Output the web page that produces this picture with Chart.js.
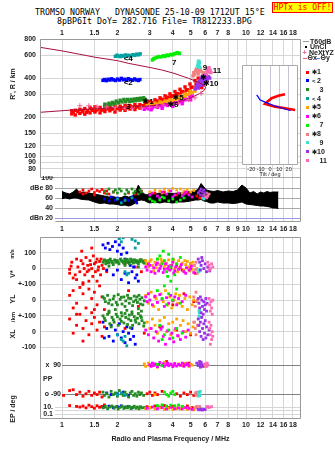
<!DOCTYPE html>
<html>
<head>
<meta charset="utf-8">
<script src="https://cdn.jsdelivr.net/npm/chart.js@4.4.0/dist/chart.umd.min.js"></script>
<style>
  html, body { margin: 0; padding: 0; background: #fff; }
  #wrap { position: relative; width: 335px; height: 451px; overflow: hidden; background: #fff; }
  #wrap canvas { position: absolute; }
  .mono { position: absolute; white-space: pre; font-family: "DejaVu Sans Mono", monospace; font-size: 8.3px; line-height: 10px; color: #000; }
  #hptx { position: absolute; left: 272px; top: 2px; width: 61px; height: 11px; box-sizing: border-box; border: 1px solid #f00;
          background: #ff0; color: #f00; font: 8px "DejaVu Sans Mono", monospace; line-height: 9px; text-align: center; white-space: pre; }
  .rot { position: absolute; white-space: nowrap; transform: translate(-50%, -50%) rotate(-90deg);
         font: bold 7px "Liberation Sans", Arial, sans-serif; color: #222; }
  .lg { position: absolute; white-space: pre; font: bold 7px "Liberation Sans", Arial, sans-serif; color: #222; line-height: 8px; }
  .lg .pre { display: inline-block; font-size: 6px; overflow: visible; }
</style>
</head>
<body>
<div id="wrap">
  <div class="mono" style="left:35px;top:7px">TROMSO NORWAY   DYNASONDE 25-10-09 1712UT 15°E</div>
  <div class="mono" style="left:57px;top:16px">8pBP6It DoY= 282.716 File= TR812233.BPG</div>
  <div id="hptx">HPTx is OFF!</div>
  <canvas id="cTop" width="335" height="153" style="left:0;top:26px"></canvas>
  <canvas id="cTilt" width="60" height="113" style="left:240px;top:65px"></canvas>
  <canvas id="cDbe" width="335" height="58" style="left:0;top:176px"></canvas>
  <canvas id="cLow" width="335" height="216" style="left:0;top:235px"></canvas>
  <div class="rot" style="left:12px;top:84px">R', R / km</div>
  <div class="rot" style="left:12px;top:274px">V*</div>
  <div class="rot" style="left:12px;top:254px;font-size:5.5px">m/s</div>
  <div class="rot" style="left:12px;top:299px">YL</div>
  <div class="rot" style="left:13px;top:317px;font-size:6px">/km</div>
  <div class="rot" style="left:12px;top:334px">XL</div>
  <div class="rot" style="left:12px;top:409px">EP / deg</div>
</div>
<script>
// ---- cluster names / colours ----
const clusterNames = ['✱1', '<2', '3', '<4', '✱5', '✱6', '7', '✱8', '9', '✱10', '11'];
const clusterColors = ['#ff0000', '#0000ff', '#228b22', '#00a0a0', '#ffa500', '#ff00ff',
                       '#00f000', '#f08080', '#40e0d0', '#9932e8', '#ff69b4'];

// ---- tick labels ----
const freqTicks = [1, 1.5, 2, 3, 4, 5, 6, 7, 8, 9, 10, 12, 14, 16, 18];
const topFreqLabels = ['1', '1.5', '2', '3', '4', '5', '6', '7', '8', '', '10', '12', '14', '16', '18'];
const midFreqLabels = ['1', '1.5', '2', '3', '4', '5', '6', '7', '8', '9', '10', '12', '14', '16', '18'];
const rangeTicks = [800, 600, 400, 300, 200, 150, 120, 100, 90, 80];
const dbeTicks = [100, 80, 60, 40, 20];
const dbeTickLabels = ['100', 'dBe 80', '60', '40', 'dBn 20'];
const tiltTicks = [-20, -10, 0, 10, 20];
const lowTicks = [1, 0, -1, -2, -3, -4, -5];
const lowTickLabels = ['100', '0', '+-100', '0', '+-100', '0', '-100'];
const ppMarks = [[90, 'x  90'], [-90, 'o -90']];
const epMarks = [[10, '10.'], [1, ''], [0.1, '0.1']];

// ---- virtual range R' (MHz, km) per cluster ----
const virtualRange = [
  [1,1.13,212],[1,1.13,224],[1,1.18,208],[1,1.18,226],[1,1.25,214],[1,1.25,230],[1,1.29,220],[1,1.33,211],[1,1.33,233],
  [1,1.38,224],[1,1.42,216],[1,1.42,236],[1,1.47,226],[1,1.51,219],[1,1.51,240],[1,1.56,230],[1,1.61,216],[1,1.61,238],
  [1,1.66,227],[1,1.71,221],[1,1.71,244],[1,1.76,232],[1,1.82,224],[1,1.82,240],[1,1.88,232],[1,1.94,219],[1,1.94,245],
  [1,2.0,234],[1,2.07,227],[1,2.07,243],[1,2.13,236],[1,2.2,226],[1,2.2,247],[1,2.27,238],[1,2.34,231],[1,2.34,246],
  [1,2.41,240],[1,2.49,229],[1,2.49,250],[1,2.57,241],[1,2.65,235],[1,2.65,250],[1,2.74,245],[1,2.83,245],[1,2.83,258],
  [1,2.92,252],[1,3.0,250],[1,3.0,264],[1,3.1,258],[1,3.2,256],[1,3.2,272],[1,3.3,266],[1,3.41,265],[1,3.41,282],
  [1,3.52,275],[1,3.63,272],[1,3.63,292],[1,3.75,285],[1,3.86,280],[1,3.86,302],[1,3.98,292],[1,4.11,292],[1,4.11,315],
  [1,4.24,304],[1,4.38,300],[1,4.38,328],[1,4.52,315],[1,4.66,308],[1,4.66,342],[1,4.8,325],[1,4.96,318],[1,4.96,360],
  [1,5.1,340],[1,5.28,335],[1,5.28,382],[1,5.4,360],[1,5.5,352],[1,5.5,400],[1,5.62,345],[1,5.75,338],
  [1,1.15,218],[1,1.22,221],[1,1.3,226],[1,1.36,218],[1,1.45,231],[1,1.53,225],[1,1.63,228],[1,1.73,232],[1,1.85,231],
  [1,1.97,232],[1,2.1,235],[1,2.24,236],[1,2.38,238],[1,2.53,240],[1,2.7,242],[1,2.88,250],[1,3.05,257],[1,3.25,264],
  [1,3.47,272],[1,3.7,281],[1,3.92,289],[1,4.17,302],[1,4.45,314],[1,4.73,325],[1,5.03,340],[1,5.35,358],
  [2,1.67,384],[2,1.7,390],[2,1.74,382],[2,1.78,392],[2,1.82,386],[2,1.86,395],[2,1.9,388],[2,1.95,383],[2,2.0,393],
  [2,2.05,386],[2,2.1,398],[2,2.15,388],[2,2.2,392],[2,2.25,384],[2,2.3,396],[2,2.36,389],[2,2.42,385],[2,2.48,394],
  [2,2.54,387],[2,2.6,383],[2,2.65,390],
  [3,1.71,243],[3,1.71,252],[3,1.76,248],[3,1.8,256],[3,1.85,250],[3,1.88,260],[3,1.94,254],[3,1.97,266],[3,2.03,258],
  [3,2.07,270],[3,2.12,262],[3,2.17,274],[3,2.22,264],[3,2.27,274],[3,2.32,264],[3,2.37,274],[3,2.42,266],[3,2.47,276],
  [3,2.52,268],[3,2.57,278],[3,2.62,270],[3,2.67,280],[3,2.72,272],[3,2.78,282],[3,2.83,274],
  [4,1.95,588],[4,1.99,600],[4,2.03,592],[4,2.07,585],[4,2.11,597],[4,2.16,590],[4,2.21,603],[4,2.26,594],[4,2.31,600],
  [4,2.37,592],[4,2.43,606],[4,2.49,598],[4,2.55,612],[4,2.61,604],[4,2.66,615],
  [5,2.83,238],[5,2.9,246],[5,3.0,242],[5,3.0,252],[5,3.1,248],[5,3.2,245],[5,3.2,256],[5,3.3,252],[5,3.41,250],
  [5,3.41,262],[5,3.52,258],[5,3.63,255],[5,3.63,266],[5,3.75,262],[5,3.86,258],[5,3.86,272],[5,3.98,268],[5,4.11,266],
  [5,4.11,280],[5,4.24,276],[5,4.38,276],[5,4.38,290],[5,4.52,288],[5,4.66,286],[5,4.66,302],[5,4.8,298],[5,4.96,296],
  [5,4.96,315],[5,5.1,310],[5,5.28,318],[5,5.28,330],
  [6,2.8,230],[6,2.88,236],[6,2.95,232],[6,3.0,240],[6,3.1,236],[6,3.2,242],[6,3.3,238],[6,3.41,246],[6,3.52,242],
  [6,3.63,250],[6,3.75,246],[6,3.86,254],[6,3.98,250],[6,4.11,258],[6,4.24,256],[6,4.38,264],[6,4.52,264],[6,4.66,272],
  [6,4.8,274],[6,4.96,284],[6,5.1,290],[6,3.05,228],[6,3.5,234],[6,4.0,242],[6,4.5,254],[6,5.0,272],
  [7,3.1,552],[7,3.15,562],[7,3.2,570],[7,3.28,578],[7,3.36,586],[7,3.45,582],[7,3.55,594],[7,3.63,588],[7,3.72,602],
  [7,3.8,596],[7,3.9,608],[7,4.0,604],[7,4.08,616],[7,4.17,622],[7,4.25,628],[7,4.35,620],
  [8,5.15,415],[8,5.2,440],[8,5.25,425],[8,5.32,455],[8,5.38,470],[8,5.45,445],[8,5.5,430],[8,5.56,460],[8,5.62,475],
  [8,5.7,450],[8,5.8,420],[8,5.9,440],[8,6.0,410],
  [9,5.45,495],[9,5.5,520],[9,5.52,540],[9,5.55,505],[9,5.58,530],[9,5.6,485],
  [10,5.3,330],[10,5.38,345],[10,5.45,360],[10,5.5,335],[10,5.55,375],[10,5.6,350],[10,5.65,390],[10,5.7,365],
  [10,5.75,400],[10,5.8,380],[10,5.85,355],[10,5.9,410],[10,5.95,390],[10,6.0,370],[10,6.05,420],[10,6.1,400],
  [10,6.15,385],[10,6.25,410],[10,6.35,400],
  [11,6.1,430],[11,6.15,455],[11,6.2,470],[11,6.25,445],[11,6.3,480],[11,6.38,460],[11,6.45,440]
];
// cluster tags written in the range panel (MHz, km)
const clusterTags = [['<4',2.29,561],['<2',2.29,365],['3',2.29,242],['✱1',2.94,264],['✱5',4.27,280],['✱6',4.01,249],
  ['7',4.07,526],['9',5.98,476],['✱',5.87,403],['11',6.95,456],['✱10',6.43,361]];
// model profile trace (MHz, km)
const modelTrace = [[0.76,690],[1.0,648],[1.25,610],[1.51,579],[2.0,545],[2.29,520],[3.0,483],[3.48,462],[4.0,438],
  [4.86,399],[5.5,372],[5.9,352],[6.05,340],[5.9,320],[5.5,300],[5.0,282],[4.5,268],[4.0,258],[3.5,250],[3.0,244],
  [2.5,240],[2.0,237],[1.5,232],[1.13,227],[0.76,218]];
// NeXtYZ real heights (MHz, km)
const nextYZ = [[1.25,245],[1.4,245],[1.55,240],[1.75,240],[1.95,238],[2.2,235],[2.4,234],[2.7,236],[3.0,238],
  [3.27,241],[3.55,249],[3.9,252],[4.28,256],[4.86,272],[5.28,282],[5.7,305]];
// tilt profiles (deg, km)
const thetaX = [[26.9,227],[16,234],[5.4,241],[-5.4,253],[-3.5,261],[1.8,280],[8.9,292],[16.1,300]];
const thetaY = [[-14.3,297],[-12.5,285],[-10.8,272],[-5.4,261],[5.4,244],[19.7,227],[22,225]];

// ---- echo amplitude (MHz, dB) ----
const dbeFreq = [1.0,1.05,1.1,1.15,1.2,1.25,1.3,1.4,1.5,1.6,1.7,1.8,1.9,2.0,2.1,2.2,2.3,2.4,2.5,2.6,2.7,2.8,2.9,3.0,
  3.2,3.4,3.6,3.8,4.0,4.3,4.6,5.0,5.3,5.5,5.7,5.9,6.1,6.4,6.7,7.0,7.5,8.0,8.5,9.0,9.5,10.0,10.5,11.0,11.5,12.0,12.5,
  13.0,13.5,14.0,14.5,15.0];
const dbeHigh = [73,70,68,72,78,70,72,70,68,66,64,62,63,60,61,64,62,63,70,86,74,68,66,70,68,70,68,70,69,70,71,73,74,
  78,89,82,76,74,73,75,72,74,73,76,86,80,70,73,68,72,70,73,71,72,72,72];
const dbeLow = [59,60,58,60,60,58,57,56,52,49,50,48,48,47,45,46,44,46,50,55,56,55,52,50,52,50,52,51,50,52,52,54,56,
  56,57,54,53,50,50,52,50,50,49,50,52,48,47,46,45,44,44,43,42,40,40,39];
const dbeEcho = [
  [1,1.25,72],[1,1.3,76],[1,1.35,70],[1,1.4,74],[1,1.45,78],[1,1.5,71],[1,1.55,75],[1,1.6,73],[1,1.65,77],[1,1.7,70],
  [1,1.75,74],[1,1.8,68],[1,1.3,68],[1,1.5,66],[1,1.9,72],[1,2.3,70],[1,2.5,68],[1,2.7,74],[1,3.2,70],[1,3.6,72],
  [1,4.2,66],[1,4.8,70],[1,5.4,64],[1,5.6,60],
  [2,1.7,58],[2,1.8,54],[2,1.85,62],[2,1.95,56],[2,2.0,60],[2,2.1,52],[2,2.2,58],[2,2.3,55],[2,2.4,62],[2,2.5,56],[2,2.55,50],
  [3,1.7,74],[3,1.75,68],[3,1.8,78],[3,1.9,72],[3,1.95,76],[3,2.0,70],[3,2.05,78],[3,2.1,74],[3,2.2,68],[3,2.25,76],
  [3,2.3,72],[3,2.4,78],[3,2.45,70],[3,2.5,74],[3,2.6,68],[3,2.65,76],[3,2.7,72],
  [4,2.0,58],[4,2.2,55],[4,2.4,60],[4,2.1,50],
  [5,3.0,72],[5,3.2,76],[5,3.4,74],[5,3.6,78],[5,3.8,75],[5,4.0,79],[5,4.2,76],[5,4.4,78],[5,4.6,74],[5,4.8,77],
  [5,5.0,72],[5,5.2,75],[5,3.5,70],[5,4.5,70],
  [6,3.0,66],[6,3.1,70],[6,3.3,64],[6,3.5,72],[6,3.7,68],[6,3.9,74],[6,4.1,66],[6,4.3,70],[6,4.5,64],[6,4.7,72],
  [6,4.9,66],[6,5.1,62],[6,3.4,60],[6,4.0,62],[6,4.6,68],
  [7,3.0,58],[7,3.2,52],[7,3.4,56],[7,3.6,60],[7,3.8,54],[7,4.0,58],[7,4.2,52],[7,4.4,56],[7,4.6,60],[7,3.5,62],[7,3.1,54],
  [8,5.9,66],[8,6.0,62],[8,6.1,70],[8,6.2,64],[8,6.3,68],
  [9,5.8,60],[9,5.9,58],
  [10,5.5,70],[10,5.6,74],[10,5.7,78],[10,5.8,72],[10,5.9,76],[10,6.0,70],[10,5.65,66],[10,5.85,64],
  [11,6.1,60],[11,6.2,64]
];

// ---- lower panels: V* (m/s), YL, XL (km), PP (deg), EP (deg) ----
const velocity = [
  [1,1.1,-5],[1,1.1,-30],[1,1.13,40],[1,1.15,-60],[1,1.2,60],[1,1.22,10],[1,1.25,-20],[1,1.28,110],[1,1.3,30],
  [1,1.33,-40],[1,1.35,70],[1,1.38,20],[1,1.4,-10],[1,1.42,50],[1,1.45,0],[1,1.48,80],[1,1.5,30],[1,1.52,-20],
  [1,1.55,60],[1,1.58,10],[1,1.6,45],[1,1.62,-40],[1,1.65,20],[1,1.4,-80],[1,1.3,-90],[1,1.2,-70],[1,1.7,50],
  [1,1.45,130],[1,1.75,-20],[1,2.2,30],[1,2.5,10],[1,2.7,-20],[1,3.5,40],[1,4.2,20],[1,4.5,-10],[1,5.0,30],
  [1,5.3,-30],[1,3.9,0],
  [1,1.12,15],[1,1.18,-40],[1,1.27,50],[1,1.32,0],[1,1.37,-20],[1,1.43,25],[1,1.47,-50],[1,1.53,40],[1,1.57,-10],
  [1,1.63,60],[1,1.68,0],
  [2,1.67,150],[2,1.72,130],[2,1.78,160],[2,1.82,120],[2,1.88,140],[2,1.95,170],[2,2.0,110],[2,2.05,150],[2,2.1,90],
  [2,2.15,130],[2,2.2,60],[2,2.25,100],[2,2.3,40],[2,2.4,-20],[2,2.45,10],[2,2.5,-60],[2,1.9,-40],[2,2.0,-10],
  [2,2.1,-70],[2,2.2,-30],[2,2.3,-90],[2,2.35,20],[2,1.75,-10],[2,2.55,-40],[2,2.6,-80],
  [4,2.05,190],[4,2.1,170],[4,2.15,195],[4,2.4,185],[4,2.5,175],[4,2.6,160],[4,2.2,-20],[4,2.25,-40],[4,2.3,-30],[4,2.5,130],
  [3,1.67,40],[3,1.7,55],[3,1.73,30],[3,1.76,50],[3,1.8,35],[3,1.83,60],[3,1.86,45],[3,1.9,25],[3,1.93,55],[3,1.96,40],
  [3,2.0,50],[3,2.04,30],[3,2.08,60],[3,2.12,45],[3,2.16,35],[3,2.2,55],[3,2.24,40],[3,2.28,50],[3,2.32,30],[3,2.36,60],
  [3,2.4,45],[3,2.44,35],[3,2.48,55],[3,2.52,40],[3,2.56,50],[3,2.6,30],[3,2.64,45],[3,2.7,55],[3,2.76,40],[3,2.82,50],
  [3,1.8,15],[3,2.2,20],[3,2.6,10],
  [3,1.69,48],[3,1.75,38],[3,1.81,52],[3,1.88,36],[3,1.95,48],[3,2.02,40],[3,2.1,52],[3,2.18,44],[3,2.26,58],
  [3,2.34,42],[3,2.42,54],[3,2.5,46],[3,2.58,38],[3,2.66,56],[3,2.74,46],[3,2.8,34],
  [5,2.85,50],[5,2.9,30],[5,2.95,10],[5,3.0,45],[5,3.1,20],[5,3.2,40],[5,3.3,60],[5,3.4,25],[5,3.5,45],[5,3.6,10],
  [5,3.7,35],[5,3.8,55],[5,3.9,20],[5,4.0,40],[5,4.1,0],[5,4.2,30],[5,4.3,50],[5,4.4,15],[5,4.5,35],[5,4.6,-10],
  [5,4.7,25],[5,4.8,45],[5,4.9,10],[5,5.0,30],[5,5.1,-5],[5,5.2,20],[5,3.15,-15],[5,4.25,-20],
  [5,2.88,20],[5,3.05,55],[5,3.25,5],[5,3.45,60],[5,3.65,25],[5,3.85,-5],[5,4.05,55],[5,4.35,5],[5,4.65,50],
  [5,4.95,-15],[5,5.15,40],
  [6,2.85,10],[6,2.9,-10],[6,3.0,20],[6,3.05,-20],[6,3.15,5],[6,3.25,25],[6,3.35,-15],[6,3.45,15],[6,3.55,-25],
  [6,3.65,30],[6,3.75,0],[6,3.85,-10],[6,3.95,20],[6,4.05,-30],[6,4.15,10],[6,4.3,-5],[6,4.45,25],[6,4.6,-20],
  [6,4.75,5],[6,4.9,-10],[6,5.05,15],[6,5.2,-25],[6,3.3,35],[6,4.0,40],
  [6,2.95,30],[6,3.2,-30],[6,3.4,0],[6,3.6,-5],[6,3.8,15],[6,4.1,-15],[6,4.4,5],[6,4.7,-30],[6,5.0,0],
  [7,3.3,60],[7,3.4,80],[7,3.5,30],[7,3.6,50],[7,3.7,-20],[7,3.8,90],[7,3.9,10],[7,4.0,60],[7,4.1,-40],[7,4.2,30],
  [7,4.4,70],[7,3.55,110],
  [8,5.25,20],[8,5.3,-10],[8,5.35,40],[8,5.4,0],[8,5.45,-30],
  [10,5.5,60],[10,5.6,40],[10,5.7,20],[10,5.8,50],[10,5.9,0],[10,6.0,30],[10,6.1,-20],[10,5.65,-10],[10,5.75,70],
  [10,6.2,10],[10,6.35,-15],
  [9,5.5,-10],[9,5.55,-20],[9,5.6,-5],
  [11,6.2,40],[11,6.3,20],[11,6.4,0],[11,6.5,30],[11,6.6,10],[11,6.3,-10]
];
const yLocation = [
  [1,1.1,30],[1,1.15,60],[1,1.2,-20],[1,1.25,80],[1,1.3,40],[1,1.35,-50],[1,1.4,70],[1,1.45,10],[1,1.5,50],[1,1.55,-30],
  [1,1.6,90],[1,1.65,20],[1,1.7,-60],[1,1.3,100],[1,1.2,-90],[1,1.45,-80],[1,1.55,120],[1,2.3,60],[1,2.6,-40],
  [1,3.2,20],[1,4.0,-30],[1,4.6,40],[1,5.2,-10],
  [3,1.67,20],[3,1.72,-10],[3,1.77,30],[3,1.82,0],[3,1.87,-30],[3,1.92,25],[3,1.97,-15],[3,2.02,35],[3,2.07,5],
  [3,2.12,-25],[3,2.17,20],[3,2.22,-5],[3,2.27,30],[3,2.32,-20],[3,2.37,10],[3,2.42,-35],[3,2.47,25],[3,2.52,0],
  [3,2.57,-15],[3,2.62,30],[3,2.67,-25],[3,2.72,15],[3,2.8,-5],[3,1.8,-70],[3,2.1,-80],[3,2.4,-75],[3,2.7,-70],
  [3,1.7,10],[3,1.79,-20],[3,1.9,8],[3,2.0,-30],[3,2.1,18],[3,2.2,-40],[3,2.3,12],[3,2.45,-10],[3,2.55,20],[3,2.65,5],
  [3,2.75,-30],[3,1.95,-60],[3,2.25,-65],[3,2.6,-55],
  [5,2.85,30],[5,2.95,-20],[5,3.05,50],[5,3.15,-40],[5,3.25,10],[5,3.35,-60],[5,3.45,40],[5,3.55,-10],[5,3.65,60],
  [5,3.75,-30],[5,3.85,20],[5,3.95,-50],[5,4.05,0],[5,4.15,40],[5,4.25,-20],[5,4.35,30],[5,4.5,-40],[5,4.65,10],
  [5,4.8,-60],[5,4.95,20],[5,5.1,-30],[5,5.2,0],
  [6,2.85,20],[6,2.9,-10],[6,2.95,40],[6,3.0,0],[6,3.1,-30],[6,3.2,25],[6,3.3,-15],[6,3.4,35],[6,3.5,5],[6,3.6,-40],
  [6,3.7,15],[6,3.8,-20],[6,3.9,30],[6,4.0,-5],[6,4.1,20],[6,4.2,-30],[6,4.3,10],[6,4.5,-10],[6,4.7,30],
  [7,3.3,60],[7,3.5,10],[7,3.6,90],[7,3.7,-30],[7,3.8,40],[7,3.9,120],[7,4.0,0],[7,4.2,70],[7,4.4,-20],[7,3.75,150],
  [8,5.2,20],[8,5.3,-40],[8,5.35,50],[8,5.4,-10],[8,5.45,0],
  [10,5.5,10],[10,5.55,-20],[10,5.6,-50],[10,5.65,20],[10,5.7,-80],[10,5.75,0],[10,5.8,-40],[10,5.85,-90],[10,5.9,-10],
  [10,5.95,-60],[10,6.0,-30],[10,6.05,10],[10,6.1,-70],[10,6.15,-20],
  [9,5.55,-70],[9,5.6,-60],[9,5.58,-80],
  [11,6.3,10],[11,6.35,-30],[11,6.4,-70],[11,6.45,-10],[11,6.5,-50],[11,6.55,-90],[11,6.6,0]
];
const xLocation = [
  [1,1.1,80],[1,1.15,-10],[1,1.2,40],[1,1.25,110],[1,1.3,20],[1,1.35,70],[1,1.4,-20],[1,1.45,50],[1,1.5,90],[1,1.55,10],
  [1,1.6,60],[1,1.65,-30],[1,1.7,30],[1,1.3,-60],[1,1.15,150],[1,1.5,140],[1,2.2,20],[1,2.8,-10],[1,3.4,30],
  [1,4.2,10],[1,5.0,-20],[1,5.5,40],
  [3,1.67,100],[3,1.72,70],[3,1.77,110],[3,1.82,50],[3,1.87,90],[3,1.92,60],[3,1.97,110],[3,2.02,40],[3,2.07,80],
  [3,2.12,100],[3,2.17,55],[3,2.22,90],[3,2.27,45],[3,2.32,105],[3,2.37,70],[3,2.42,40],[3,2.47,95],[3,2.52,60],
  [3,2.57,85],[3,2.62,50],[3,2.67,100],[3,2.72,70],[3,2.8,55],
  [3,1.7,85],[3,1.8,120],[3,1.9,75],[3,2.0,95],[3,2.1,65],[3,2.2,115],[3,2.3,80],[3,2.4,110],[3,2.5,75],[3,2.6,115],
  [3,2.7,90],[3,2.78,35],[3,1.85,30],[3,2.35,25],
  [2,1.67,60],[2,1.75,20],[2,1.8,-30],[2,1.85,40],[2,1.9,-60],[2,1.95,10],[2,2.0,-20],[2,2.05,50],[2,2.1,-40],
  [2,2.15,0],[2,2.2,-70],[2,2.25,30],[2,2.3,-10],[2,2.35,-50],[2,2.4,20],[2,2.45,-30],[2,2.5,-80],[2,1.7,-40],
  [4,2.0,-20],[4,2.1,-50],[4,2.2,-30],[4,2.25,-90],[4,2.15,-60],
  [5,2.9,60],[5,3.0,20],[5,3.1,80],[5,3.2,40],[5,3.3,-10],[5,3.4,70],[5,3.5,30],[5,3.6,90],[5,3.7,0],[5,3.8,50],
  [5,3.9,-20],[5,4.0,60],[5,4.1,10],[5,4.2,80],[5,4.3,-30],[5,4.4,40],[5,4.55,70],[5,4.7,0],[5,4.85,50],[5,5.0,-10],
  [5,5.15,30],[5,5.25,60],
  [6,2.85,10],[6,2.95,-20],[6,3.05,20],[6,3.15,-40],[6,3.25,0],[6,3.35,-60],[6,3.45,15],[6,3.55,-30],[6,3.65,-80],
  [6,3.75,5],[6,3.85,-45],[6,3.95,-10],[6,4.05,-65],[6,4.15,20],[6,4.25,-25],[6,4.4,-50],[6,4.55,0],[6,4.7,-35],
  [6,4.85,10],[6,3.5,30],
  [7,3.4,40],[7,3.6,-20],[7,3.8,10],[7,4.0,-40],[7,4.2,20],[7,4.5,-10],[7,3.5,-50],
  [8,5.2,60],[8,5.3,20],[8,5.35,-20],[8,5.45,40],
  [10,5.5,80],[10,5.55,40],[10,5.6,0],[10,5.65,60],[10,5.7,-30],[10,5.75,90],[10,5.8,20],[10,5.85,-50],[10,5.9,50],
  [10,5.95,-10],[10,6.0,70],[10,6.05,-40],[10,6.1,30],[10,6.2,-20],[10,6.3,10],
  [9,5.55,100],[9,5.6,90],
  [11,6.3,60],[11,6.35,20],[11,6.4,-20],[11,6.45,40],[11,6.5,-50],[11,6.55,0],[11,6.6,-30],[11,6.4,-80]
];
const polarization = [
  [5,2.8,95],[5,2.85,80],[5,2.95,100],[5,3.0,85],[5,3.1,90],[5,3.3,75],[5,4.3,95],[5,4.5,85],[5,4.7,100],[5,4.9,80],
  [5,5.0,92],[5,5.1,88],[5,3.6,105],[5,3.2,-95],
  [6,3.0,90],[6,3.05,80],[6,3.1,100],[6,3.15,85],[6,3.2,95],[6,3.3,78],[6,3.35,92],[6,3.4,104],[6,3.5,86],[6,3.55,96],
  [6,3.6,80],[6,3.7,90],[6,3.75,100],[6,3.8,84],[6,3.9,94],[6,4.0,78],[6,4.05,88],[6,4.1,98],[6,4.2,82],[6,4.3,92],
  [6,4.4,86],[6,4.5,100],[6,4.6,80],[6,4.7,90],[6,4.8,96],[6,4.9,84],
  [1,4.6,95],[1,4.9,100],[1,3.7,110],
  [7,3.3,92],[7,3.5,84],
  [10,5.4,100],[10,5.5,85],[10,5.6,95],[10,5.65,75],[10,5.7,105],[10,5.75,90],[10,5.8,80],[10,5.6,110],
  [11,6.0,95],[11,6.1,80],[11,6.15,100],[11,6.2,88],
  [8,5.8,92],[8,5.9,78],
  [1,1.1,-70],[1,1.2,-95],[1,1.25,-80],[1,1.3,-105],[1,1.35,-90],[1,1.4,-75],[1,1.45,-100],[1,1.5,-85],[1,1.55,-95],
  [1,1.6,-80],[1,1.65,-110],[1,2.9,-90],[1,3.0,-80],[1,3.1,-100],[1,3.2,-85],[1,3.3,-95],[1,3.5,-75],[1,4.2,-90],
  [1,4.4,-105],[1,4.6,-85],[1,4.8,-95],[1,5.0,-80],[1,5.2,-100],[1,5.4,-90],[1,1.02,-100],[1,1.15,-65],
  [3,1.67,-80],[3,1.7,-100],[3,1.75,-90],[3,1.8,-110],[3,1.85,-75],[3,1.9,-95],[3,1.95,-85],[3,2.0,-105],[3,2.05,-70],
  [3,2.1,-90],[3,2.15,-100],[3,2.2,-80],[3,2.25,-95],[3,2.3,-110],[3,2.35,-85],[3,2.4,-75],[3,2.45,-100],[3,2.5,-90],
  [3,2.55,-105],[3,2.6,-80],[3,2.65,-95],[3,2.7,-85],[3,2.78,-100],
  [2,1.75,-85],[2,1.85,-95],[2,2.0,-90],[2,2.15,-80],[2,2.3,-100],
  [4,2.0,-95],[4,2.1,-85],[4,2.2,-100],[4,5.55,-80],[4,5.6,-100],
  [7,3.6,-80],[7,3.7,-95],[7,3.8,-105],[7,3.9,-85],[7,4.0,-75],[7,4.1,-95],
  [8,5.3,-90],[8,5.4,-100],[8,5.35,-80],
  [9,5.5,-85],[9,5.6,-95],[9,5.65,-75],[9,5.55,-105]
];
const epError = [
  [1,1.1,20],[1,1.2,12],[1,1.25,8],[1,1.3,15],[1,1.35,5],[1,1.4,25],[1,1.45,10],[1,1.5,4],[1,1.55,18],[1,1.6,7],
  [1,1.65,12],[1,1.7,30],[1,2.9,10],[1,3.0,5],[1,3.2,15],[1,3.4,8],[1,3.6,20],[1,3.8,6],[1,4.0,12],[1,4.2,4],
  [1,4.5,10],[1,4.8,16],[1,5.1,6],[1,5.4,9],
  [3,1.67,5],[3,1.72,12],[3,1.77,3],[3,1.82,8],[3,1.87,15],[3,1.92,4],[3,1.97,10],[3,2.02,2.5],[3,2.07,7],[3,2.12,14],
  [3,2.17,3.5],[3,2.22,9],[3,2.27,5],[3,2.32,11],[3,2.37,3],[3,2.42,7],[3,2.47,13],[3,2.52,4],[3,2.57,8],[3,2.62,2.8],
  [3,2.67,10],[3,2.72,5],[3,2.8,6],
  [2,1.7,8],[2,1.8,14],[2,1.9,6],[2,2.0,10],[2,2.1,16],[2,2.2,7],[2,2.3,12],[2,2.4,5],
  [5,2.85,3],[5,3.0,6],[5,3.2,2.5],[5,3.4,5],[5,3.6,2],[5,3.8,4],[5,4.0,1.8],[5,4.2,3.5],[5,4.4,2.2],[5,4.6,5],
  [5,4.8,2],[5,5.0,4],[5,5.2,1.5],
  [6,2.9,4],[6,3.1,8],[6,3.3,3],[6,3.5,6],[6,3.7,2.5],[6,3.9,7],[6,4.1,3],[6,4.3,5],[6,4.5,2.8],[6,4.7,6],[6,4.9,3.5],[6,5.1,2],
  [7,3.3,20],[7,3.5,30],[7,3.7,15],[7,3.9,25],[7,4.1,18],[7,4.3,28],[7,4.5,12],
  [10,5.5,2],[10,5.6,1.5],[10,5.7,2.5],[10,5.8,1.3],[10,5.9,2],[10,6.0,1.8],
  [11,6.1,8],[11,6.2,12],[11,6.3,6],[11,6.5,10],
  [8,5.4,7],[8,5.6,12],[8,5.3,5]
];

// ---- shared look ----
Chart.defaults.font.family = '"Liberation Sans", Arial, sans-serif';
Chart.defaults.font.size = 7;
Chart.defaults.font.weight = 'bold';
Chart.defaults.color = '#222';
Chart.defaults.animation = false;
Chart.defaults.responsive = false;
Chart.defaults.events = [];
Chart.defaults.layout.autoPadding = false;
Chart.defaults.plugins.legend.display = false;
Chart.defaults.plugins.tooltip.enabled = false;

const GRID = '#d6d6d6';
const F_MAX = 19.9;
// frequency at a page x position (f=1 at x=62, 184 px per decade)
const fAtX = px => Math.pow(10, (px - 62) / 184);

function frame(id, sides, color) {
  return {
    id,
    afterDraw(chart) {
      const a = chart.chartArea, ctx = chart.ctx;
      const l = Math.round(a.left) + 0.5, r = Math.round(a.right) - 0.5;
      const t = Math.round(a.top) + 0.5, b = Math.round(a.bottom) - 0.5;
      ctx.save();
      ctx.strokeStyle = color;
      ctx.lineWidth = 1;
      ctx.beginPath();
      if (sides.includes('t')) { ctx.moveTo(l, t); ctx.lineTo(r, t); }
      if (sides.includes('b')) { ctx.moveTo(l, b); ctx.lineTo(r, b); }
      if (sides.includes('l')) { ctx.moveTo(l, t); ctx.lineTo(l, b); }
      if (sides.includes('r')) { ctx.moveTo(r, t); ctx.lineTo(r, b); }
      ctx.stroke();
      ctx.restore();
    }
  };
}

function freqAxis(min, labels, pos, height, pad) {
  return {
    type: 'logarithmic', position: pos, min, max: F_MAX,
    afterBuildTicks: s => { s.ticks = freqTicks.map(v => ({ value: v })); },
    afterFit: s => { s.height = height; s.paddingLeft = 0; s.paddingRight = 0; },
    ticks: { callback: v => labels[freqTicks.indexOf(v)], padding: pad, maxRotation: 0, minRotation: 0, autoSkip: false },
    grid: { color: GRID, drawTicks: false },
    border: { display: false }
  };
}

const byCluster = (rows, k) => rows.filter(r => r[0] === k);

// ---- top panel: virtual range ----
const topSets = [];
topSets.push({ data: nextYZ.map(([f, r]) => ({ x: f, y: r })), pointStyle: 'cross', pointRadius: 2.5,
  borderColor: '#f0609a', borderWidth: 1, backgroundColor: '#f0609a' });
topSets.push({ data: modelTrace.map(([f, r]) => ({ x: f, y: r })), showLine: true, pointRadius: 0,
  borderColor: '#a8103c', borderWidth: 1 });
for (let i = clusterNames.length - 1; i >= 0; i--) {
  topSets.push({ data: byCluster(virtualRange, i + 1).map(([, f, r]) => ({ x: f, y: r })), pointStyle: 'rect',
    pointRadius: 2.4, borderWidth: 0, backgroundColor: clusterColors[i], borderColor: clusterColors[i] });
}

const tagPlugin = {
  id: 'tags',
  afterDatasetsDraw(chart) {
    const { ctx, scales: { x, y } } = chart;
    ctx.save();
    ctx.fillStyle = '#000';
    ctx.font = 'bold 8px "Liberation Sans", "DejaVu Sans", sans-serif';
    ctx.textAlign = 'center';
    ctx.textBaseline = 'middle';
    clusterTags.forEach(([t, f, r]) => ctx.fillText(t, x.getPixelForValue(f), y.getPixelForValue(r)));
    ctx.restore();
  }
};

const topChart = new Chart(document.getElementById('cTop'), {
  type: 'scatter',
  data: { datasets: topSets },
  options: {
    layout: { padding: { left: 0, right: 34, top: 0, bottom: 1 } },
    scales: {
      x: freqAxis(fAtX(40), topFreqLabels, 'top', 13, 2),
      y: {
        type: 'logarithmic', min: 68, max: 800,
        afterBuildTicks: s => { s.ticks = rangeTicks.map(v => ({ value: v })); },
        afterFit: s => { s.width = 40; s.paddingTop = 0; s.paddingBottom = 0; },
        ticks: { callback: v => String(v), padding: 4, autoSkip: false },
        grid: { color: GRID, drawTicks: false },
        border: { display: false }
      }
    }
  },
  plugins: [tagPlugin, frame('topFrame', 'tlbr', '#999')]
});

// ---- tilt inset, sharing the range scale of the top panel ----
const yTop = topChart.scales.y;
const tiltMax = yTop.getValueForPixel(65 - 26);
const tiltMin = yTop.getValueForPixel(165 - 26);
const whiteArea = {
  id: 'whiteArea',
  beforeDraw(chart) {
    const a = chart.chartArea;
    chart.ctx.save();
    chart.ctx.fillStyle = '#fff';
    chart.ctx.fillRect(a.left, a.top, a.right - a.left, a.bottom - a.top);
    chart.ctx.restore();
  }
};
new Chart(document.getElementById('cTilt'), {
  type: 'scatter',
  data: { datasets: [
    { data: thetaY.map(([d, r]) => ({ x: d, y: r })), showLine: true, pointRadius: 0, borderColor: '#0000ff', borderWidth: 1.2 },
    { data: thetaX.map(([d, r]) => ({ x: d, y: r })), showLine: true, pointRadius: 0, borderColor: '#ff0000', borderWidth: 2.6 }
  ] },
  options: {
    layout: { padding: { left: 2, right: 2, top: 0, bottom: 0 } },
    scales: {
      x: {
        type: 'linear', min: -30, max: 30,
        afterBuildTicks: s => { s.ticks = tiltTicks.map(v => ({ value: v })); },
        afterFit: s => { s.height = 13; s.paddingLeft = 0; s.paddingRight = 0; },
        ticks: { callback: v => String(v), font: { size: 5.5, weight: 'normal' }, padding: 1, maxRotation: 0, autoSkip: false },
        title: { display: true, text: 'Tilt / deg', font: { size: 5.5, weight: 'normal' }, padding: 0 },
        grid: { color: '#c4c4d4', drawTicks: false },
        border: { display: false }
      },
      y: { type: 'logarithmic', display: false, min: tiltMin, max: tiltMax }
    }
  },
  plugins: [whiteArea, frame('tiltFrame', 'tlbr', '#aaa')]
});

// ---- echo amplitude panel ----
const dbeSets = [];
for (let i = clusterNames.length - 1; i >= 0; i--) {
  dbeSets.push({ data: byCluster(dbeEcho, i + 1).map(([, f, d]) => ({ x: f, y: d })), showLine: false, pointStyle: 'rect',
    pointRadius: 1.9, borderWidth: 0, backgroundColor: clusterColors[i], borderColor: clusterColors[i] });
}
dbeSets.push({ data: dbeFreq.map((f, j) => ({ x: f, y: dbeLow[j] })), borderColor: '#000', borderWidth: 1,
  pointRadius: 0, fill: false, order: 20 });
dbeSets.push({ data: dbeFreq.map((f, j) => ({ x: f, y: dbeHigh[j] })), borderColor: '#000', borderWidth: 1,
  pointRadius: 0, fill: '-1', backgroundColor: '#000', order: 20 });

new Chart(document.getElementById('cDbe'), {
  type: 'line',
  data: { datasets: dbeSets },
  options: {
    layout: { padding: { left: 0, right: 34, top: 0, bottom: 0 } },
    scales: {
      x: freqAxis(fAtX(55), midFreqLabels, 'bottom', 12, 3),
      y: {
        type: 'linear', min: 12, max: 104,
        afterBuildTicks: s => { s.ticks = dbeTicks.map(v => ({ value: v })); },
        afterFit: s => { s.width = 55; s.paddingTop = 0; s.paddingBottom = 0; },
        ticks: { callback: v => dbeTickLabels[dbeTicks.indexOf(v)], padding: 2, autoSkip: false },
        grid: { color: c => (c.tick && c.tick.value === 20 ? '#9a9ae8' : '#a8a8a8'), drawTicks: false },
        border: { display: false }
      }
    }
  },
  plugins: [frame('dbeFrame', 'br', '#999')]
});

// ---- lower panels: one stacked axis (units of 100 m/s or 100 km) ----
const YL_OFF = -2, XL_OFF = -4, PP_MID = -7.02, PP_SPAN = 0.92, EP_MID = -9.0, EP_DEC = 0.24;
const ppU = pp => PP_MID + pp / 90 * PP_SPAN;
const epU = ep => EP_MID + EP_DEC * Math.log10(ep);

const lowSets = [];
for (let i = clusterNames.length - 1; i >= 0; i--) {
  const k = i + 1, pts = [];
  byCluster(velocity, k).forEach(([, f, v]) => pts.push({ x: f, y: v / 100 }));
  byCluster(yLocation, k).forEach(([, f, v]) => pts.push({ x: f, y: v / 100 + YL_OFF }));
  byCluster(xLocation, k).forEach(([, f, v]) => pts.push({ x: f, y: v / 100 + XL_OFF }));
  byCluster(polarization, k).forEach(([, f, v]) => pts.push({ x: f, y: ppU(v) }));
  byCluster(epError, k).forEach(([, f, v]) => pts.push({ x: f, y: epU(v) }));
  lowSets.push({ data: pts, pointStyle: 'rect', pointRadius: 2.0, borderWidth: 0,
    backgroundColor: clusterColors[i], borderColor: clusterColors[i] });
}

const lowExtras = {
  id: 'lowExtras',
  beforeDatasetsDraw(chart) {
    const { ctx, chartArea: a, scales: { x, y } } = chart;
    const x1 = x.getPixelForValue(1);
    ctx.save();
    ctx.lineWidth = 1;
    ctx.font = 'bold 7px "Liberation Sans", Arial, sans-serif';
    ctx.fillStyle = '#222';
    ctx.textBaseline = 'middle';
    ppMarks.forEach(([v, label]) => {
      const py = Math.round(y.getPixelForValue(ppU(v))) + 0.5;
      ctx.strokeStyle = '#808080';
      ctx.beginPath(); ctx.moveTo(x1, py); ctx.lineTo(a.right, py); ctx.stroke();
      ctx.textAlign = 'right';
      ctx.fillText(label, x1 - 1, py);
    });
    ctx.textAlign = 'left';
    ctx.fillText('PP', a.left + 3, y.getPixelForValue(PP_MID));
    epMarks.forEach(([v, label]) => {
      const py = Math.round(y.getPixelForValue(epU(v))) + 0.5;
      ctx.strokeStyle = GRID;
      ctx.beginPath(); ctx.moveTo(a.left + 15, py); ctx.lineTo(a.right, py); ctx.stroke();
      ctx.textAlign = 'right';
      ctx.fillText(label, a.left + 13, py);
    });
    ctx.restore();
  }
};

new Chart(document.getElementById('cLow'), {
  type: 'scatter',
  data: { datasets: lowSets },
  options: {
    layout: { padding: { left: 0, right: 34, top: 2, bottom: 8 } },
    scales: {
      x: Object.assign(freqAxis(fAtX(40), topFreqLabels, 'bottom', 24, 2), {
        title: { display: true, text: 'Radio and Plasma Frequency / MHz', padding: 0 }
      }),
      y: {
        type: 'linear', min: -9.54, max: 2,
        afterBuildTicks: s => { s.ticks = lowTicks.map(v => ({ value: v })); },
        afterFit: s => { s.width = 40; s.paddingTop = 0; s.paddingBottom = 0; },
        ticks: { callback: v => lowTickLabels[lowTicks.indexOf(v)], padding: 4, autoSkip: false },
        grid: { color: GRID, drawTicks: false },
        border: { display: false }
      }
    }
  },
  plugins: [lowExtras, frame('lowFrame', 'tlbr', '#999')]
});

// ---- legend column ----
const wrap = document.getElementById('wrap');
function addEl(html, style, cls) {
  const d = document.createElement('div');
  if (cls) d.className = cls;
  d.innerHTML = html;
  Object.assign(d.style, { position: 'absolute' }, style);
  wrap.appendChild(d);
}
addEl('', { left: '303px', top: '41px', width: '6px', height: '1px', background: '#999' });
addEl('T60dB', { left: '310px', top: '37.5px' }, 'lg');
addEl('', { left: '305px', top: '46px', width: '2px', height: '2px', background: '#000' });
addEl('UnCl', { left: '310px', top: '43px' }, 'lg');
addEl('+', { left: '302.5px', top: '48.5px', color: '#f0609a' }, 'lg');
addEl('NeXtYZ', { left: '309px', top: '48.5px' }, 'lg');
addEl('', { left: '303px', top: '58px', width: '4px', height: '1px', background: '#f06080' });
addEl('Θx', { left: '307.5px', top: '54px' }, 'lg');
addEl('', { left: '316px', top: '58px', width: '4px', height: '1px', background: '#8080f0' });
addEl('Θy', { left: '320.5px', top: '54px' }, 'lg');
clusterNames.forEach((name, i) => {
  const cy = 72 + i * 8.87;
  addEl('', { left: '306px', top: (cy - 1.5) + 'px', width: '3px', height: '3px', background: clusterColors[i] });
  const num = name.replace(/[^0-9]/g, ''), pre = name.replace(/[0-9]/g, '');
  const padW = pre ? 5 : 7.5;
  addEl('<span class="pre" style="width:' + padW + 'px">' + pre + '</span>' + num,
    { left: '312px', top: (cy - 4) + 'px' }, 'lg');
});
</script>
</body>
</html>
